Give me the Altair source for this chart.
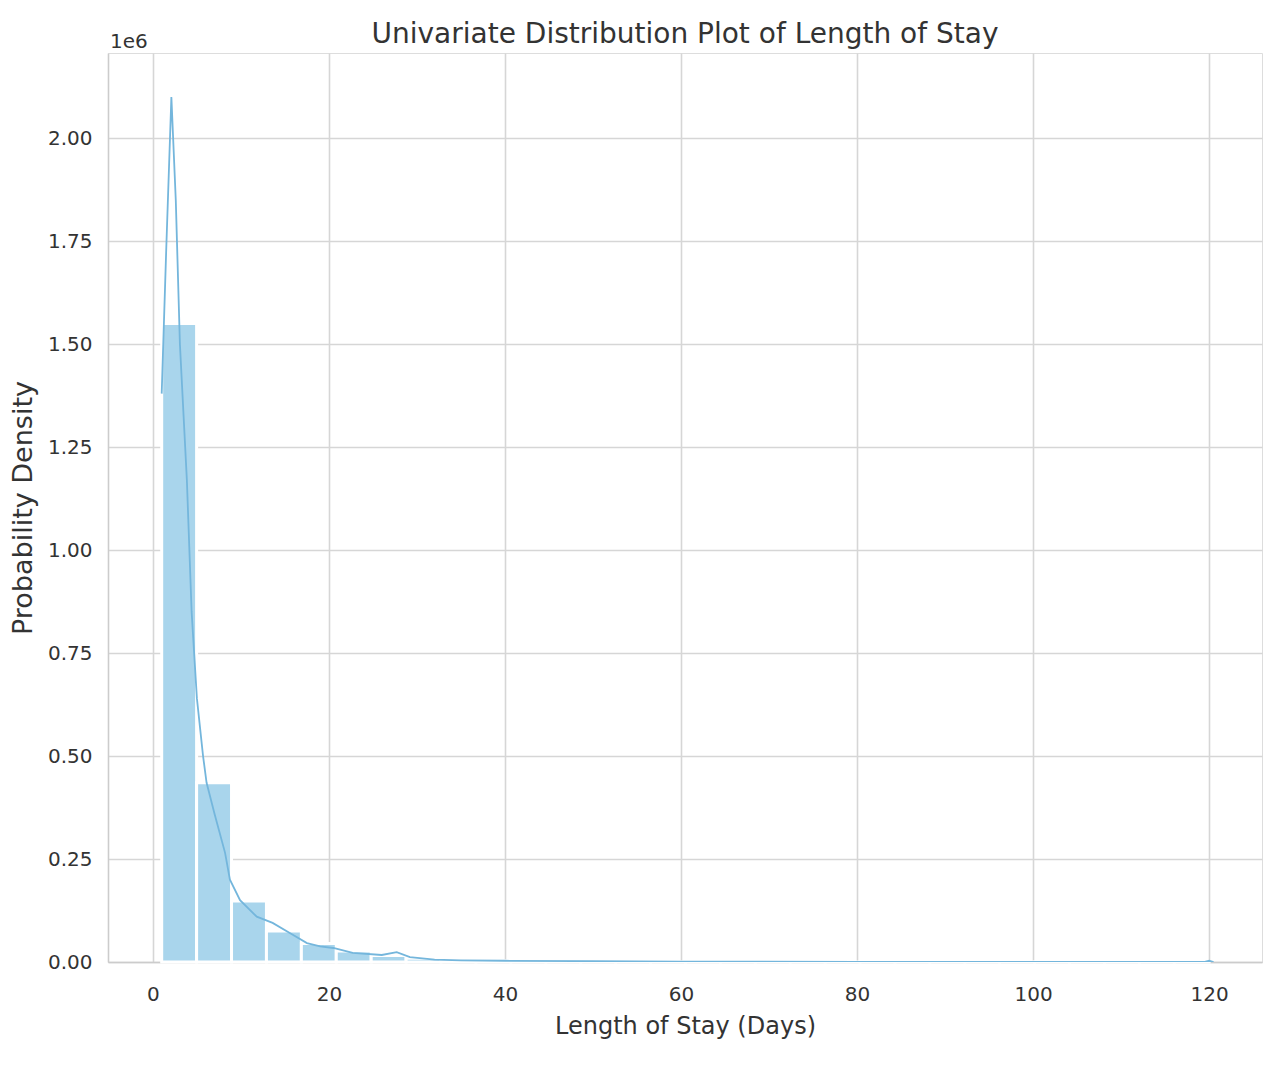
import altair as alt
import pandas as pd

# Histogram bins (days) and density heights (x 1e6)
bin_width = 119 / 30
bin_starts = [1 + i * bin_width for i in range(30)]
bin_heights = [1.55, 0.435, 0.148, 0.075, 0.045, 0.027, 0.016, 0.009, 0.005, 0.003,
               0.002, 0.0015, 0.001, 0.0008, 0.0006, 0.0005, 0.0004, 0.0003, 0.0002, 0.0002,
               0.0001, 0.0001, 0.0001, 0.0001, 0.0001, 0.0001, 0.0001, 0.0001, 0.0001, 0.0005]

# KDE curve (days, density x 1e6)
kde_x = [1.0, 1.5, 2.1, 2.6, 3.07, 3.86, 4.4, 5.0, 5.7, 6.1, 7.0, 8.2, 8.75, 9.9, 11.8,
         13.6, 15.6, 17.5, 19.0, 20.5, 22.7, 26.0, 27.7, 29.2, 32.0, 35.0, 40.0, 50.0,
         60.0, 80.0, 100.0, 119.5, 120.0, 120.5]
kde_y = [1.38, 1.72, 2.10, 1.85, 1.50, 1.17, 0.85, 0.64, 0.50, 0.435, 0.36, 0.265, 0.2,
         0.15, 0.11, 0.095, 0.07, 0.046, 0.038, 0.034, 0.022, 0.017, 0.024, 0.012, 0.006,
         0.004, 0.003, 0.002, 0.001, 0.0005, 0.0003, 0.0002, 0.003, 0.0]

hist_df = pd.DataFrame({
    "start": bin_starts,
    "end": [s + bin_width for s in bin_starts],
    "density": bin_heights,
})
kde_df = pd.DataFrame({"days": kde_x, "density": kde_y})

FONT = "DejaVu Sans"
GRID = "#d6d6d6"
TXT = "#333333"

xscale = alt.Scale(domain=[-5.1, 126], nice=False, zero=False)
yscale = alt.Scale(domain=[0, 2.207], nice=False)

xaxis = alt.Axis(values=[0, 20, 40, 60, 80, 100, 120], format="d", title="Length of Stay (Days)",
                 grid=True, gridColor=GRID, gridWidth=1.6, ticks=False, domain=True,
                 domainColor="#cccccc", domainWidth=1.6, labelFontSize=20, labelPadding=22,
                 labelColor=TXT, titleFontSize=24, titleColor=TXT, titleFontWeight="normal",
                 titlePadding=10, labelFont=FONT, titleFont=FONT)
yaxis = alt.Axis(values=[0, 0.25, 0.5, 0.75, 1.0, 1.25, 1.5, 1.75, 2.0], format=".2f",
                 title="Probability Density", grid=True, gridColor=GRID, gridWidth=1.6,
                 ticks=False, domain=True, domainColor="#cccccc", domainWidth=1.6,
                 labelFontSize=20, labelPadding=16, labelColor=TXT, titleFontSize=27,
                 titleColor=TXT, titleFontWeight="normal", titlePadding=10,
                 labelFont=FONT, titleFont=FONT)

bars = alt.Chart(hist_df).mark_rect(color="#a9d5ec", stroke="white", strokeWidth=3).encode(
    x=alt.X("start:Q", scale=xscale, axis=xaxis),
    x2="end:Q",
    y=alt.Y("density:Q", scale=yscale, axis=yaxis),
    y2=alt.datum(0),
)

line = alt.Chart(kde_df).mark_line(color="#74b6dc", strokeWidth=1.8, clip=True).encode(
    x=alt.X("days:Q", scale=xscale),
    y=alt.Y("density:Q", scale=yscale),
)

offset = alt.Chart(pd.DataFrame({"t": ["1e6"]})).mark_text(
    fontSize=20, font=FONT, color=TXT, align="left", baseline="bottom"
).encode(x=alt.value(2), y=alt.value(-1), text="t:N")

chart = alt.layer(bars, line, offset).properties(
    width=1154,
    height=909,
    title=alt.TitleParams("Univariate Distribution Plot of Length of Stay", fontSize=28,
                          font=FONT, fontWeight="normal", color=TXT, anchor="middle",
                          offset=-17),
    padding={"left": 100, "top": 45, "right": 10, "bottom": 100},
    autosize=alt.AutoSizeParams(type="none"),
).configure_view(stroke=None).configure(background="white")

chart.save("out.html", embed_options={"renderer": "svg", "actions": False})
